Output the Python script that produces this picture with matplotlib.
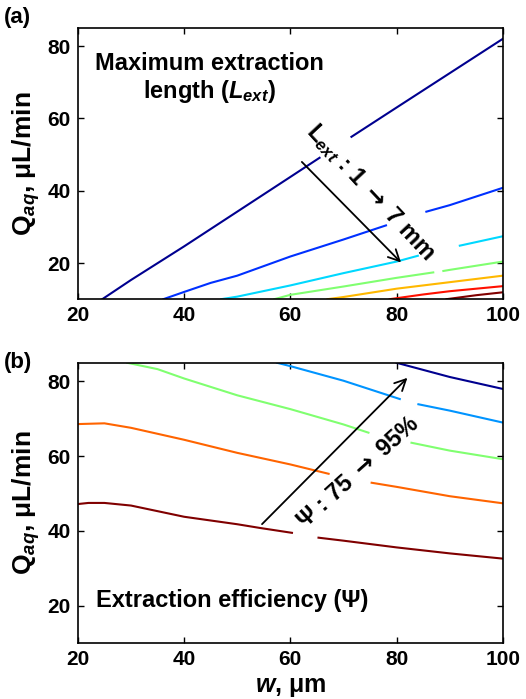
import numpy as np
import matplotlib
matplotlib.use('Agg')
import matplotlib.pyplot as plt

plt.rcParams['font.family'] = ['Liberation Sans', 'DejaVu Sans']
plt.rcParams['font.weight'] = 'bold'
plt.rcParams['mathtext.fontset'] = 'custom'
plt.rcParams['mathtext.rm'] = 'Liberation Sans:bold'
plt.rcParams['mathtext.bf'] = 'Liberation Sans:bold'
plt.rcParams['mathtext.it'] = 'Liberation Sans:italic:bold'
plt.rcParams['mathtext.bfit'] = 'Liberation Sans:italic:bold'
plt.rcParams['mathtext.sf'] = 'DejaVu Sans'   # thin arrow glyph

# ---------- (a) maximum extraction length, L_ext = 1..7 mm ----------
# each contour is a list of segments (w, Q); gaps are where contour labels were
lext_levels = [1, 2, 3, 4, 5, 6, 7]
lext_w = [
    [[24.6, 30, 40, 50, 60, 65.5], [71.5, 80, 90, 100]],
    [[36.1, 40, 45, 50, 60, 70, 78], [85.6, 90, 100]],
    [[47, 50, 60, 70, 80, 84], [91.9, 100]],
    [[57, 60, 70, 80, 86.9], [88.8, 90, 100]],
    [[67, 70, 80, 90, 100]],
    [[78.7, 85, 90, 100]],
    [[89.4, 95, 100]],
]
lext_q = [
    [[10, 15.3, 24.6, 34.2, 43.8, 49.1], [54.9, 63, 72.5, 82]],
    [[10, 12, 14.5, 16.5, 21.8, 26.5, 30.4], [34.2, 36, 40.8]],
    [[10, 10.7, 13.8, 17.2, 20.4, 22.0], [24.8, 27.4]],
    [[10, 11.2, 13.5, 15.9, 17.4], [17.8, 18.1, 20.4]],
    [[10, 10.6, 12.9, 14.7, 16.5]],
    [[10, 11.3, 12.2, 13.6]],
    [[10, 11.1, 11.9]],
]
lext_colors = ['#00008f', '#0030ff', '#00d8ff', '#80ff70', '#ffb800', '#ff1000', '#800000']

# ---------- (b) extraction efficiency, Psi = 75..95 % ----------
psi_levels = [75, 80, 85, 90, 95]
psi_w = [
    [[20, 22, 25, 30, 40, 50, 54.3, 60.3], [65.3, 70, 80, 90, 100]],
    [[20, 25, 30, 40, 50, 60, 67.2], [75.3, 80, 90, 100]],
    [[29.3, 35, 40, 50, 60, 70, 74.7], [82.8, 90, 100]],
    [[57.5, 60, 70, 80.6], [84.1, 90, 100]],
    [[80, 90, 100]],
]
psi_q = [
    [[47.2, 47.5, 47.5, 46.8, 43.8, 41.8, 40.8, 39.5], [38.2, 37.4, 35.6, 34.0, 32.6]],
    [[68.6, 68.8, 67.6, 64.4, 60.9, 57.8, 55.3], [52.9, 51.8, 49.3, 47.4]],
    [[85, 83.3, 80.8, 76.3, 72.6, 68.5, 66.3], [63.6, 61.5, 59.2]],
    [[85, 84.1, 80.2, 75.3], [73.9, 72.2, 69]],
    [[85, 81.2, 78.0]],
]
psi_colors = ['#800000', '#ff6400', '#80ff70', '#0094ff', '#00008f']

fig = plt.figure(figsize=(5.26, 6.99), dpi=100)
ax1 = fig.add_axes([0.148, 0.572, 0.808, 0.388])
ax2 = fig.add_axes([0.148, 0.080, 0.808, 0.401])

for c, ws, qs in zip(lext_colors, lext_w, lext_q):
    for w, q in zip(ws, qs):
        ax1.plot(w, q, color=c, lw=1.5)

for c, ws, qs in zip(psi_colors, psi_w, psi_q):
    for w, q in zip(ws, qs):
        ax2.plot(w, q, color=c, lw=1.5)

for ax in (ax1, ax2):
    ax.set_xlim(20, 100)
    ax.set_ylim(10, 85)
    ax.set_xticks([20, 40, 60, 80, 100])
    ax.set_yticks([20, 40, 60, 80])
    ax.tick_params(direction='in', top=True, right=True, labelsize=15, length=4, width=1, pad=5)
    for lab in ax.get_xticklabels() + ax.get_yticklabels():
        lab.set_fontweight('bold')
    for s in ax.spines.values():
        s.set_linewidth(1.2)
    ax.set_ylabel(r'Q$_{\mathit{aq}}$, μL/min', fontsize=19, fontweight='bold', labelpad=4)

# panel (a) annotations
ax1.text(44.8, 71, 'Maximum extraction\nlength ($\\mathit{L_{ext}}$)', fontsize=17,
         fontweight='bold', ha='center', va='center', linespacing=1.15)
ax1.annotate('', xy=(81.2, 19.6), xytext=(61.8, 48.5),
             arrowprops=dict(arrowstyle='->', color='black', lw=1.3, mutation_scale=20))
ax1.text(75, 39.5, r'L$_{ext}$ : 1 $\mathsf{\rightarrow}$ 7 mm', fontsize=17, fontweight='bold',
         rotation=-47, ha='center', va='center')

# panel (b) annotations
ax2.text(23.4, 21.5, 'Extraction efficiency (Ψ)', fontsize=17, fontweight='bold',
         ha='left', va='center')
ax2.annotate('', xy=(82.4, 81.5), xytext=(54.3, 41.3),
             arrowprops=dict(arrowstyle='->', color='black', lw=1.3, mutation_scale=20))
ax2.text(72.8, 55.6, r'Ψ : 75 $\mathsf{\rightarrow}$ 95%', fontsize=17, fontweight='bold',
         rotation=42, ha='center', va='center')
ax2.set_xlabel(r'$\mathit{w}$, μm', fontsize=18, fontweight='bold', labelpad=4)

fig.text(0.008, 0.975, '(a)', fontsize=16, fontweight='bold', ha='left', va='center')
fig.text(0.008, 0.482, '(b)', fontsize=16, fontweight='bold', ha='left', va='center')

fig.savefig('out.png', dpi=100)
